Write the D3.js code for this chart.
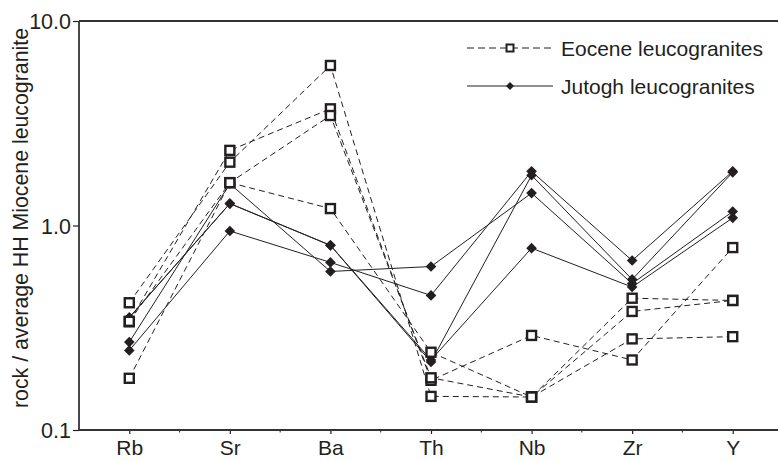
<!DOCTYPE html>
<html><head><meta charset="utf-8">
<script src="https://cdn.jsdelivr.net/npm/d3@7"></script>
<style>body{margin:0;background:#fff}svg{display:block}text{font-family:"Liberation Sans",Arial,sans-serif;fill:#231f20}</style>
</head><body><svg id="c" width="778" height="461"></svg>
<script>
const categories = ["Rb","Sr","Ba","Th","Nb","Zr","Y"];
const yTicks = [0.1, 1, 10];
const yTickLabels = ["0.1","1.0","10.0"];
const eocene = [
  [0.419, 2.04, 6.06, 0.146, 0.145, 0.441, 0.43],
  [0.338, 2.33, 3.72, 0.175, 0.29, 0.22, 0.78],
  [0.340, 1.62, 3.45, 0.18, 0.145, 0.38, 0.43],
  [0.179, 1.62, 1.21, 0.24, 0.145, 0.279, 0.286]
];
const jutogh = [
  [0.355, 1.28, 0.80, 0.215, 1.76, 0.545, 1.82],
  [0.355, 1.28, 0.80, 0.22, 0.775, 0.50, 1.09],
  [0.245, 0.94, 0.66, 0.455, 1.84, 0.674, 1.84],
  [0.269, 1.60, 0.596, 0.63, 1.44, 0.52, 1.17]
];
const legendLabels = ["Eocene leucogranites","Jutogh leucogranites"];

const svg = d3.select("#c");
const x = d3.scalePoint().domain(categories).range([79, 783]).padding(0.5);
const y = d3.scaleLog().domain([0.1, 10]).range([430, 21]);
const ink = "#231f20";

// axes
const yAxis = d3.axisLeft(y).tickValues(yTicks).tickFormat((d,i)=>yTickLabels[i]).tickSize(6).tickPadding(2);
const gy = svg.append("g").attr("transform","translate(79,0)").call(yAxis);
gy.select(".domain").remove();
gy.selectAll("line").attr("stroke", ink).attr("stroke-width",1.2);
gy.selectAll("text").style("font-size","21.5px").attr("dy","0.35em");

const xAxis = d3.axisBottom(x).tickSize(4).tickPadding(6);
const gx = svg.append("g").attr("transform","translate(0,430)").call(xAxis);
gx.select(".domain").remove();
gx.selectAll("line").attr("stroke", ink).attr("stroke-width",1.2);
gx.selectAll("text").style("font-size","21px");

// minor ticks between categories
const step = x.step();
svg.append("g").selectAll("line").data(categories.map((c,i)=>x(categories[0]) + step*(i+0.5)))
  .join("line").attr("x1",d=>d).attr("x2",d=>d).attr("y1",430).attr("y2",432.5).attr("stroke",ink).attr("stroke-width",1);

// frame lines
svg.append("line").attr("x1",79).attr("x2",778).attr("y1",21).attr("y2",21).attr("stroke","#333").attr("stroke-width",1.8);
svg.append("line").attr("x1",79).attr("x2",79).attr("y1",21).attr("y2",430).attr("stroke","#333").attr("stroke-width",1.8);
svg.append("line").attr("x1",79).attr("x2",778).attr("y1",430).attr("y2",430).attr("stroke","#333").attr("stroke-width",1.8);

// y title
svg.append("text").attr("transform","translate(28,218) rotate(-90)").attr("text-anchor","middle")
  .style("font-size","21.3px").text("rock / average HH Miocene leucogranite");

const line = d3.line().x((d,i)=>x(categories[i])).y(d=>y(d));
const diamond = d3.symbol().type(d3.symbolDiamond2).size(72);

// Jutogh solid lines
svg.append("g").selectAll("path").data(jutogh).join("path")
  .attr("d", line).attr("fill","none").attr("stroke", ink).attr("stroke-width",1);
// Eocene dashed lines
svg.append("g").selectAll("path").data(eocene).join("path")
  .attr("d", line).attr("fill","none").attr("stroke", ink).attr("stroke-width",1).attr("stroke-dasharray","6,4");

// diamonds
jutogh.forEach(s=>{
  svg.append("g").selectAll("path").data(s).join("path")
    .attr("transform",(d,i)=>`translate(${x(categories[i])},${y(d)})`)
    .attr("d", diamond).attr("fill", ink);
});
// squares
eocene.forEach(s=>{
  svg.append("g").selectAll("rect").data(s).join("rect")
    .attr("x",(d,i)=>x(categories[i])-4.5).attr("y",d=>y(d)-4.5)
    .attr("width",9).attr("height",9).attr("fill","#fff").attr("stroke",ink).attr("stroke-width",2.4);
});

// legend
const lg = svg.append("g");
lg.append("line").attr("x1",467).attr("x2",553).attr("y1",48).attr("y2",48).attr("stroke",ink).attr("stroke-width",1).attr("stroke-dasharray","7,4");
lg.append("rect").attr("x",510-3.5).attr("y",48-3.5).attr("width",7).attr("height",7).attr("fill","#fff").attr("stroke",ink).attr("stroke-width",2);
lg.append("text").attr("x",561).attr("y",55.5).style("font-size","21px").text(legendLabels[0]);
lg.append("line").attr("x1",467).attr("x2",553).attr("y1",86).attr("y2",86).attr("stroke",ink).attr("stroke-width",1.2);
lg.append("path").attr("transform","translate(510,86)").attr("d", d3.symbol().type(d3.symbolDiamond2).size(40)).attr("fill",ink);
lg.append("text").attr("x",561).attr("y",93.5).style("font-size","21px").text(legendLabels[1]);
</script></body></html>
